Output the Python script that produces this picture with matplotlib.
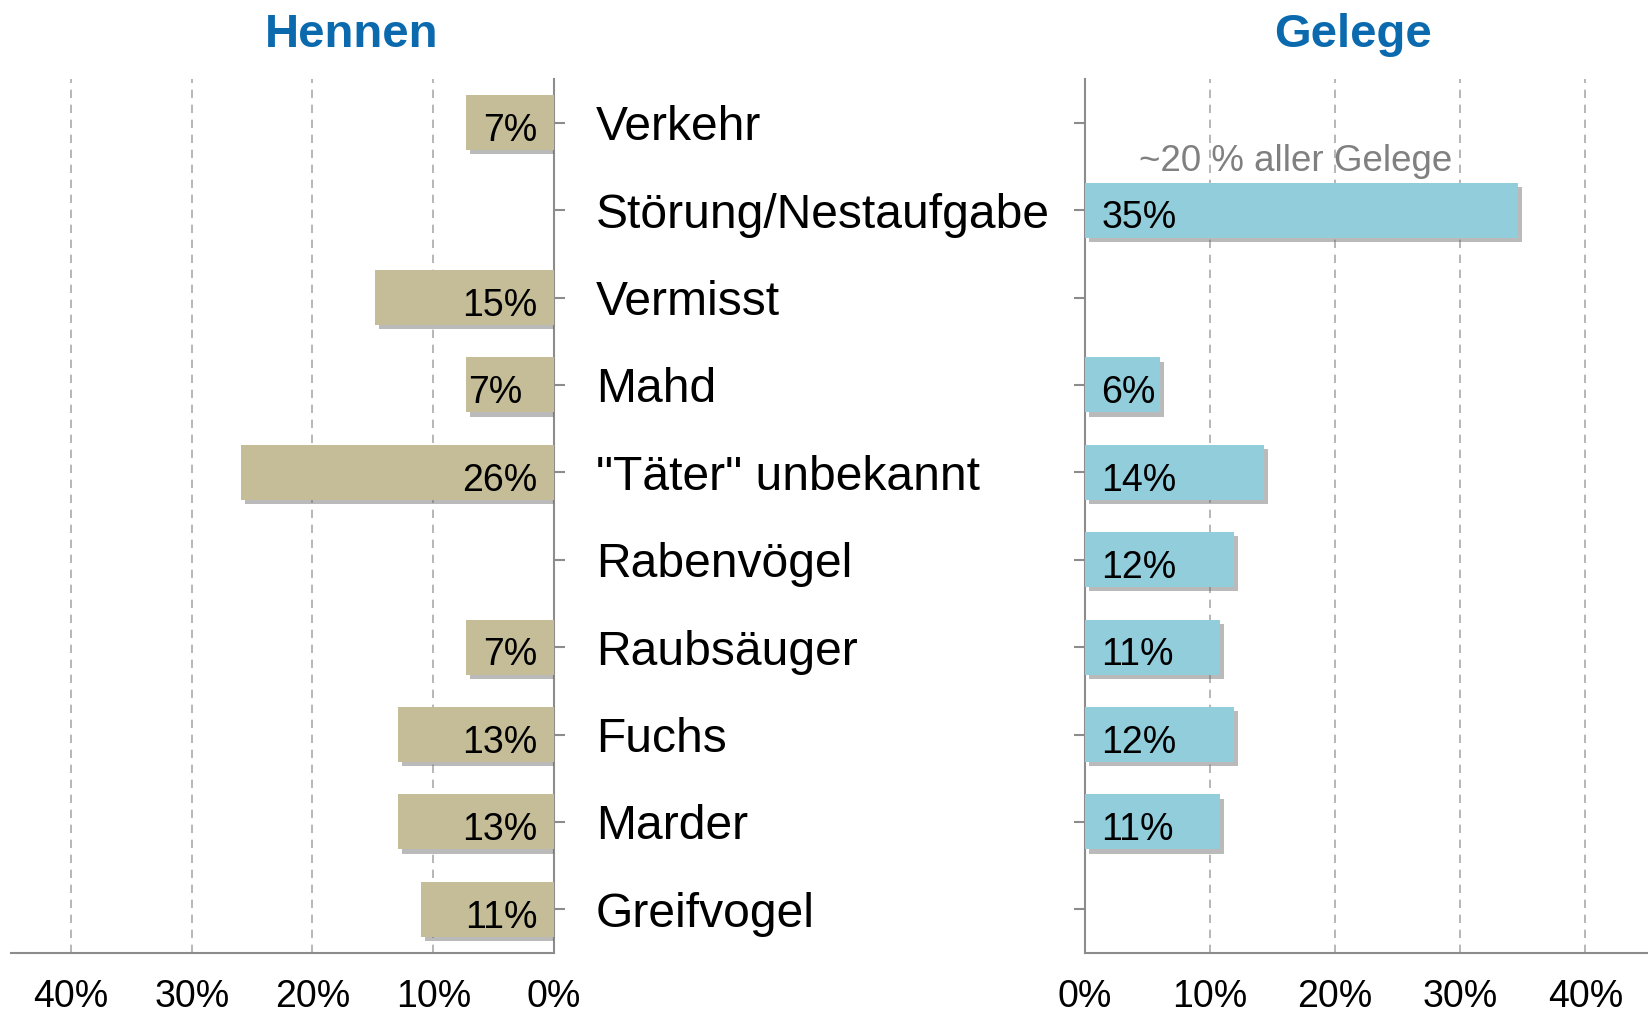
import matplotlib.pyplot as plt
import matplotlib.patheffects as pe
import numpy as np

plt.rcParams['font.family'] = ['Liberation Sans', 'DejaVu Sans']

# data (labels show the rounded value)
categories = ['Verkehr', 'Störung/Nestaufgabe', 'Vermisst', 'Mahd', '"Täter" unbekannt',
              'Rabenvögel', 'Raubsäuger', 'Fuchs', 'Marder', 'Greifvogel']
hennen = [7.3, np.nan, 14.8, 7.3, 25.9, np.nan, 7.3, 12.9, 12.9, 11.0]
gelege = [np.nan, 34.6, np.nan, 6.0, 14.3, 11.9, 10.8, 11.9, 10.8, np.nan]
ticks = [0, 10, 20, 30, 40]
tick_labels = ['0%', '10%', '20%', '30%', '40%']
note = '~20 % aller Gelege'

tan = '#c4bd97'
blue = '#92cddc'
title_col = '#0b6aae'
spine_col = '#8c8c8c'

fig = plt.figure(figsize=(16.48, 10.13), dpi=100)
ax_l = fig.add_axes([0.0064, 0.0592, 0.3298, 0.8628])
ax_r = fig.add_axes([0.6584, 0.0592, 0.3416, 0.8628])

y = np.arange(len(categories))
shadow = [pe.SimplePatchShadow(offset=(3, -3), shadow_rgbFace='#666666', alpha=0.45), pe.Normal()]

for ax, vals, col in [(ax_l, hennen, tan), (ax_r, gelege, blue)]:
    bars = ax.barh(y, np.nan_to_num(vals), height=0.63, color=col, zorder=3)
    for b, v in zip(bars, vals):
        if np.isnan(v):
            b.set_visible(False)
        else:
            b.set_path_effects(shadow)
    ax.set_ylim(len(categories) - 0.5, -0.5)
    ax.set_xlim(0, 45)
    ax.set_xticks(ticks)
    ax.set_xticklabels(tick_labels, fontsize=27)
    ax.tick_params(axis='x', length=0, pad=19)
    ax.set_yticks(y)
    ax.set_yticklabels([])
    ax.tick_params(axis='y', length=8, width=1.5, color=spine_col, direction='out')
    ax.grid(axis='x', linestyle=(0, (5, 4)), color='#aaaaaa', lw=1.2, zorder=0)
    ax.set_axisbelow(True)
    for s in ax.spines.values():
        s.set_color(spine_col)
        s.set_linewidth(1.5)
    ax.spines['top'].set_visible(False)

# left side (Hennen), mirrored
ax_l.invert_xaxis()
ax_l.yaxis.tick_right()
ax_l.spines['left'].set_visible(False)
for i, v in enumerate(hennen):
    if np.isnan(v):
        continue
    if categories[i] == 'Mahd':
        ax_l.text(v - 0.2, i + 0.05, f'{v:.0f}%', ha='left', va='center_baseline', fontsize=27, zorder=4)
    else:
        ax_l.text(1.4, i + 0.05, f'{v:.0f}%', ha='right', va='center_baseline', fontsize=27, zorder=4)

# right side (Gelege)
ax_r.spines['right'].set_visible(False)
for i, v in enumerate(gelege):
    if np.isnan(v):
        continue
    ax_r.text(1.3, i + 0.05, f'{v:.0f}%', ha='left', va='center_baseline', fontsize=27, zorder=4)
ax_r.text(4.3, 0.4, note, ha='left', va='center_baseline', fontsize=26.5, color='#808080', zorder=4)

# category labels in the middle
for i, c in enumerate(categories):
    fig.text(596 / 1648, 1 - (79 + (i + 0.5) * 87.4) / 1013, c, ha='left', va='center_baseline',
             fontsize=34.6)

fig.text(352 / 1648, 1 - 30 / 1013, 'Hennen', ha='center', va='center_baseline', fontsize=34,
         fontweight='bold', color=title_col)
fig.text(1353 / 1648, 1 - 30 / 1013, 'Gelege', ha='center', va='center_baseline', fontsize=34,
         fontweight='bold', color=title_col)

fig.savefig('out.png', dpi=100)
